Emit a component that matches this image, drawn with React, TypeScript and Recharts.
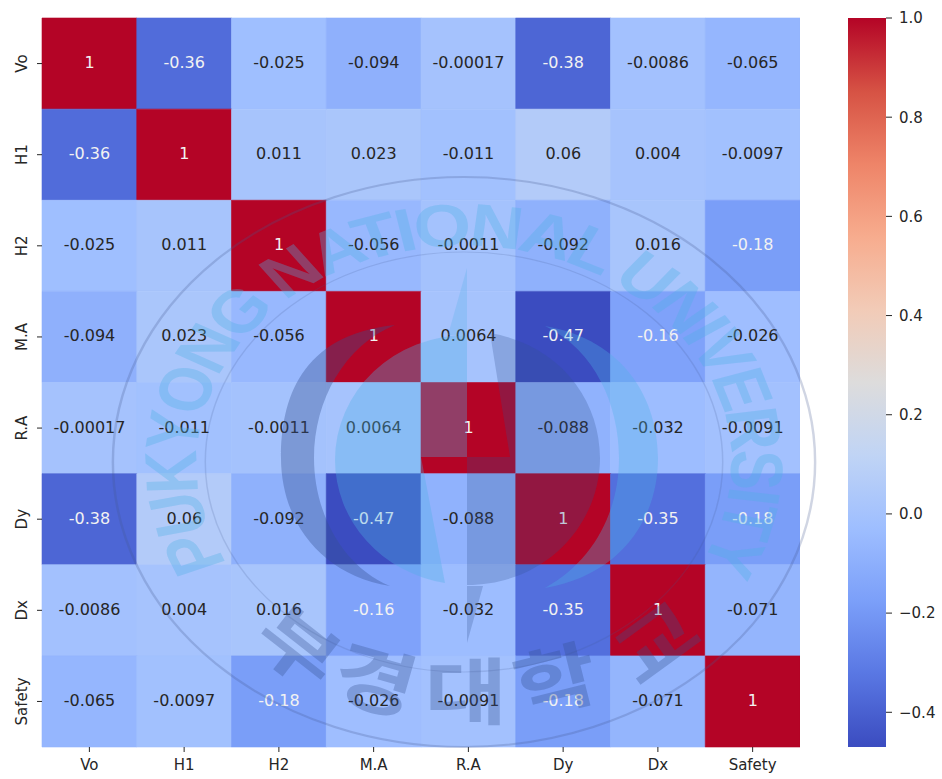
import { BarChart, Bar, Cell, LabelList, XAxis, YAxis } from 'recharts'

const labels = ['Vo', 'H1', 'H2', 'M.A', 'R.A', 'Dy', 'Dx', 'Safety']

const rowVo = [1, -0.36, -0.025, -0.094, -0.00017, -0.38, -0.0086, -0.065]
const rowH1 = [-0.36, 1, 0.011, 0.023, -0.011, 0.06, 0.004, -0.0097]
const rowH2 = [-0.025, 0.011, 1, -0.056, -0.0011, -0.092, 0.016, -0.18]
const rowMA = [-0.094, 0.023, -0.056, 1, 0.0064, -0.47, -0.16, -0.026]
const rowRA = [-0.00017, -0.011, -0.0011, 0.0064, 1, -0.088, -0.032, -0.0091]
const rowDy = [-0.38, 0.06, -0.092, -0.47, -0.088, 1, -0.35, -0.18]
const rowDx = [-0.0086, 0.004, 0.016, -0.16, -0.032, -0.35, 1, -0.071]
const rowSafety = [-0.065, -0.0097, -0.18, -0.026, -0.0091, -0.18, -0.071, 1]
const rows = [rowVo, rowH1, rowH2, rowMA, rowRA, rowDy, rowDx, rowSafety]

const rowTicks = [0.5, 1.5, 2.5, 3.5, 4.5, 5.5, 6.5, 7.5]
const barTicks = [-0.4, -0.2, 0, 0.2, 0.4, 0.6, 0.8, 1]
const vmin = -0.47
const vmax = 1

// matplotlib coolwarm, 11 samples
const coolwarm = ['#3b4cc0', '#5977e3', '#7b9ff9', '#9ebeff', '#c0d4f5', '#dddcdc', '#f2cbb7', '#f7ac8e', '#ee8468', '#d65244', '#b40426']

const FONT = 'DejaVu Sans'
const INK = '#262626'

const hexToRgb = (h: string) => [1, 3, 5].map((i) => parseInt(h.slice(i, i + 2), 16))

function colorFor(v: number) {
  const t = Math.min(1, Math.max(0, (v - vmin) / (vmax - vmin))) * (coolwarm.length - 1)
  const i = Math.min(coolwarm.length - 2, Math.floor(t))
  const a = hexToRgb(coolwarm[i])
  const b = hexToRgb(coolwarm[i + 1])
  const c = a.map((x, k) => Math.round(x + (b[k] - x) * (t - i)))
  return `rgb(${c[0]},${c[1]},${c[2]})`
}

// one stacked bar per column, every row is one unit tall
const heatData = labels.map((name) => {
  const d: Record<string, number | string> = { name }
  rows.forEach((_, r) => {
    d['r' + r] = 1
  })
  return d
})

const barData = [{ name: 'scale', range: [vmin, vmax] }]

function RowTick({ x, y, payload }: any) {
  const label = labels[Math.floor(payload.value)]
  const bx = x - 8
  return (
    <text x={bx} y={y} transform={`rotate(-90 ${bx} ${y})`} textAnchor="middle" fontFamily={FONT} fontSize={15} fill={INK}>
      {label}
    </text>
  )
}

function cellLabel(row: number[]) {
  return (p: any) => {
    const v = row[p.index]
    const light = v <= -0.15 || v === 1
    return (
      <text
        x={p.x + p.width / 2}
        y={p.y + p.height / 2 - 1}
        textAnchor="middle"
        dominantBaseline="central"
        fontFamily={FONT}
        fontSize={16}
        fill={light ? '#f2f2f2' : INK}
      >
        {String(v)}
      </text>
    )
  }
}

function Watermark() {
  const blue = '#4fb0e6'
  const slate = '#34508f'
  const hangul = [
    { ch: '부', x: 282, y: 668, r: 38 },
    { ch: '경', x: 368, y: 706, r: 16 },
    { ch: '대', x: 466, y: 718, r: 0 },
    { ch: '학', x: 562, y: 706, r: -14 },
    { ch: '교', x: 672, y: 664, r: -36 },
  ]
  return (
    <svg width={942} height={779} style={{ position: 'absolute', left: 0, top: 0, pointerEvents: 'none' }}>
      <g transform="translate(464 462) scale(1.232 1)">
        <defs>
          <path id="wm-arc" d="M -192 102 A 217 217 0 1 1 192 102" />
        </defs>
        <circle r={285} fill="none" stroke="#44588f" strokeOpacity={0.25} strokeWidth={2} />
        <circle r={210} fill="none" stroke="#44588f" strokeOpacity={0.18} strokeWidth={1.2} />
        <text fontFamily="Liberation Sans" fontWeight="bold" fontSize={60} fill={blue} fillOpacity={0.34}>
          <textPath href="#wm-arc" textLength={894} lengthAdjust="spacing">
            PUKYONG NATIONAL UNIVERSITY
          </textPath>
        </text>
      </g>
      {/* left and right crescents */}
      <path
        d="M 395 325 C 300 335 281 400 281 458 C 281 520 320 575 390 586 C 340 565 314 510 314 458 C 314 400 345 345 395 325 Z"
        fill={slate}
        fillOpacity={0.36}
      />
      <path
        d="M 545 326 C 625 340 658 400 658 458 C 658 520 620 575 545 588 C 595 560 619 510 619 458 C 619 405 595 350 545 326 Z"
        fill={blue}
        fillOpacity={0.32}
      />
      {/* centre disc, split down the needle */}
      <path d="M 467 335 A 132 125 0 0 0 335 460 A 132 125 0 0 0 445 583 L 421 457 L 467 457 Z" fill={blue} fillOpacity={0.34} />
      <path d="M 490 333 C 560 345 600 400 600 458 C 600 525 545 585 467 585 L 467 457 L 510 457 Z" fill={slate} fillOpacity={0.26} />
      <path d="M 467 268 L 448 335 L 467 335 Z" fill={blue} fillOpacity={0.25} />
      <path d="M 467 643 L 483 586 L 467 586 Z" fill={slate} fillOpacity={0.26} />
      {hangul.map((h) => (
        <text
          key={h.ch}
          transform={`translate(${h.x} ${h.y}) rotate(${h.r}) scale(1.25 1)`}
          textAnchor="middle"
          fontFamily="Noto Sans CJK KR"
          fontWeight="bold"
          fontSize={72}
          fill={slate}
          fillOpacity={0.32}
        >
          {h.ch}
        </text>
      ))}
    </svg>
  )
}

export default function App() {
  return (
    <div style={{ position: 'absolute', left: 0, top: 0, width: 942, height: 779, background: '#fff', overflow: 'hidden' }}>
      <div style={{ position: 'absolute', left: 0, top: 0 }}>
        <BarChart
          width={800}
          height={779}
          data={heatData}
          barCategoryGap={0}
          margin={{ top: 18, right: 0, left: 0, bottom: 0 }}
        >
          <XAxis
            dataKey="name"
            height={32}
            axisLine={false}
            tickSize={5}
            tickMargin={7}
            tickLine={{ stroke: INK }}
            tick={{ fontFamily: FONT, fontSize: 15, fill: INK }}
            interval={0}
          />
          <YAxis
            type="number"
            width={42}
            reversed
            domain={[0, 8]}
            ticks={rowTicks}
            interval={0}
            axisLine={false}
            tickSize={5}
            tickLine={{ stroke: INK }}
            tick={<RowTick />}
          />
          {rows.map((row, r) => (
            <Bar key={r} dataKey={'r' + r} stackId="heat" isAnimationActive={false}>
              {row.map((v, c) => (
                <Cell key={c} fill={colorFor(v)} stroke={colorFor(v)} strokeWidth={0.6} />
              ))}
              <LabelList content={cellLabel(row)} />
            </Bar>
          ))}
        </BarChart>
      </div>

      <div style={{ position: 'absolute', left: 848, top: 0 }}>
        <BarChart
          width={94}
          height={779}
          data={barData}
          barCategoryGap={0}
          margin={{ top: 18, right: 0, left: 0, bottom: 32 }}
        >
          <defs>
            <linearGradient id="cbar" x1="0" y1="0" x2="0" y2="1">
              {coolwarm
                .slice()
                .reverse()
                .map((c, i) => (
                  <stop key={i} offset={i / (coolwarm.length - 1)} stopColor={c} />
                ))}
            </linearGradient>
          </defs>
          <XAxis dataKey="name" hide />
          <YAxis
            type="number"
            orientation="right"
            width={56}
            domain={[vmin, vmax]}
            ticks={barTicks}
            interval={0}
            axisLine={false}
            tickSize={6}
            tickMargin={7}
            tickLine={{ stroke: INK }}
            tick={{ fontFamily: FONT, fontSize: 15, fill: INK, textAnchor: 'start' }}
            tickFormatter={(v: number) => v.toFixed(1).replace('-', '\u2212')}
          />
          <Bar dataKey="range" fill="url(#cbar)" isAnimationActive={false} />
        </BarChart>
      </div>

      <Watermark />
    </div>
  )
}
